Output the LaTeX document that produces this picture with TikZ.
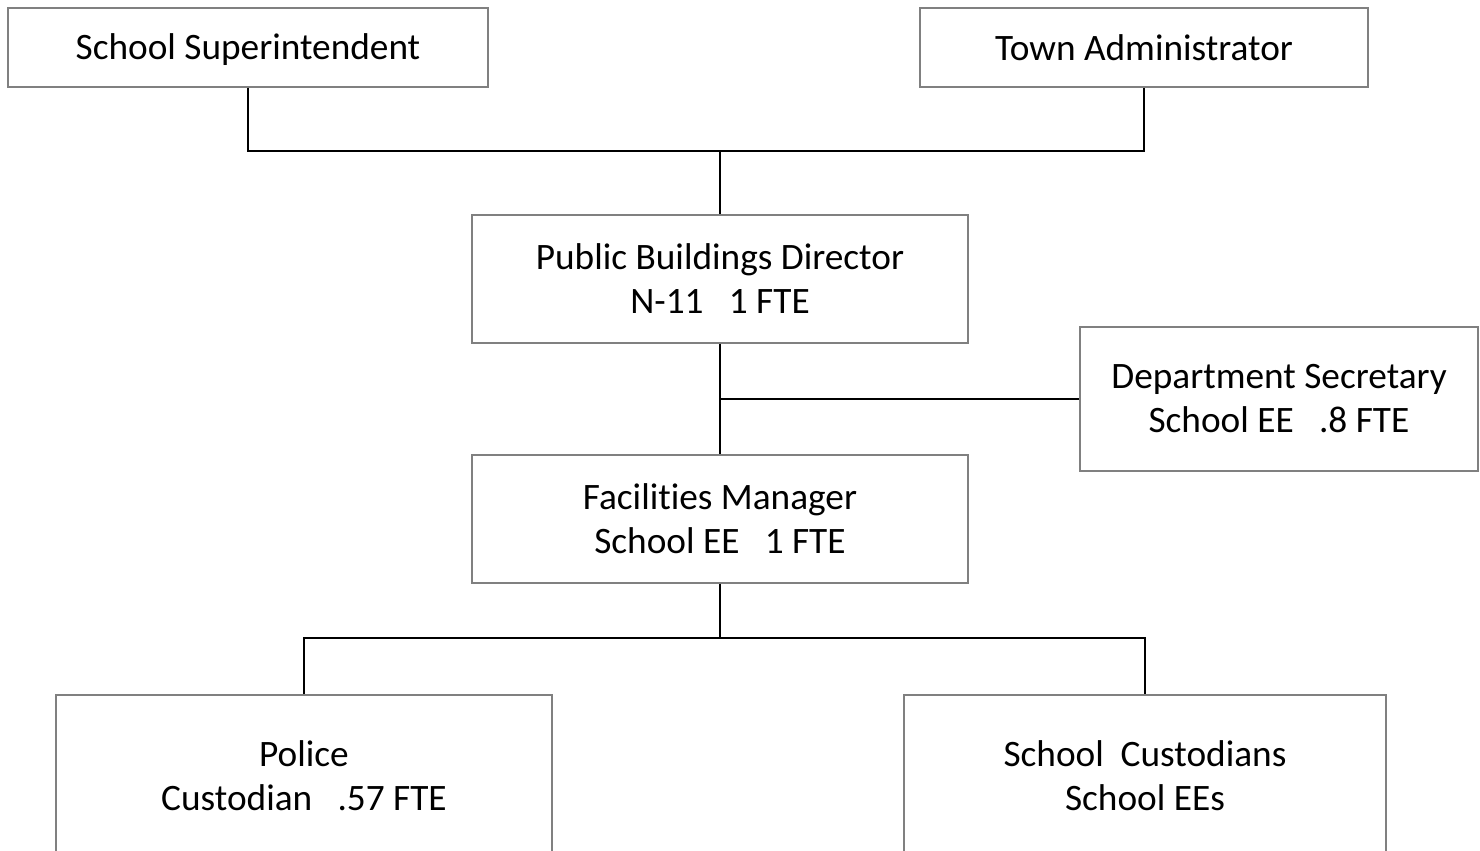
\documentclass[tikz,border=0pt]{standalone}
\usepackage{fontspec}
\setmainfont[RawFeature=-liga]{Carlito}
\begin{document}
\begin{tikzpicture}[x=1pt,y=-1pt,
  box/.style={draw=boxgray,line width=1.3pt,rectangle,align=center,inner sep=0pt,
    font=\fontsize{37.3}{44}\selectfont},
  conn/.style={draw=black,line width=1.8pt}]
\colorlet{boxgray}{black!50}
\useasboundingbox (0,0) rectangle (1480,851);
\begin{scope}
\clip (0,0) rectangle (1480,851);
\node[box,minimum width=480pt,minimum height=79pt] (sup) at (248,47.5) {\smash{School Superintendent}\vphantom{T}};
\node[box,minimum width=448pt,minimum height=79pt] (town) at (1144,47.5) {Town Administrator};
\node[box,minimum width=496pt,minimum height=128pt] (pbd) at (720,279) {Public Buildings Director\\N-11\ \ \ 1 FTE};
\node[box,minimum width=398pt,minimum height=144pt] (sec) at (1279,399) {Department Secretary\\School EE\ \ \ .8 FTE};
\node[box,minimum width=496pt,minimum height=128pt] (fm) at (720,519) {Facilities Manager\\School EE\ \ \ 1 FTE};
\node[box,minimum width=496pt,minimum height=162pt] (pol) at (304,776) {Police\\Custodian\ \ \ .57 FTE};
\node[box,minimum width=482pt,minimum height=162pt] (cus) at (1145,776) {School\ \ Custodians\\School EEs};
\coordinate (j1) at (720,151);
\coordinate (j2) at (720,399);
\coordinate (j3) at (720,638);
\draw[conn] (sup.south) |- (j1) -| (town.south);
\draw[conn] (j1) -- (pbd.north);
\draw[conn] (pbd.south) -- (fm.north);
\draw[conn] (j2) -- (sec.west);
\draw[conn] (fm.south) -- (j3);
\draw[conn] (pol.north) |- (j3) -| (cus.north);
\end{scope}
\end{tikzpicture}
\end{document}
